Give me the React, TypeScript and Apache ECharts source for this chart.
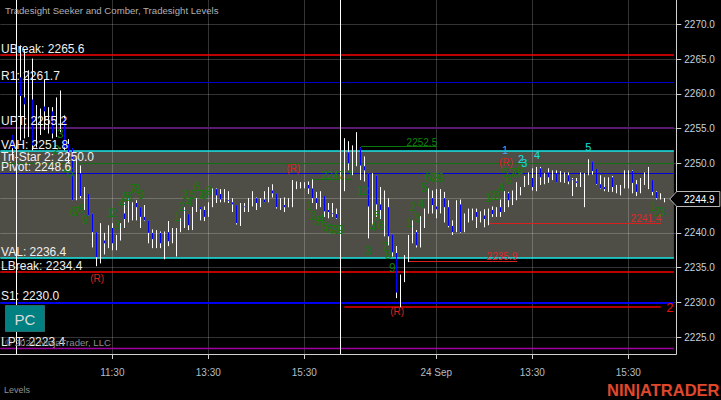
import React, { useEffect, useRef } from "react";
import * as echarts from "echarts";

const FONT = "'Liberation Sans', Arial, sans-serif";

const titleText = "Tradesight Seeker and Comber, Tradesight Levels";
const panelText = "Levels";
const copyrightText = "© 2024 NinjaTrader, LLC";
const brandText = "NIN|ATRADER";
const buttonText = "PC";

const yMin = 2222.56;
const yMax = 2273.53;
const xMin = 0;
const xMax = 169;
const yTicks = [2225, 2230, 2235, 2240, 2245, 2250, 2255, 2260, 2265, 2270];
const xTickIndex = [28, 52, 76, 109, 133, 157];
const xTickLabels = ["11:30", "13:30", "15:30", "24 Sep", "13:30", "15:30"];
const sessionBreaks = [4.05, 85.05];
const levelEnd = 168.4;

const firstBar = 3;
const barOpen = [
  2254.1, 2252.2, 2262.4, 2259.5, 2258.4, 2259.2, 2254.5, 2254.4, 2258.2, 2255.1,
  2257.5, 2254.3, 2254.8, 2256.5, 2252.8, 2252.2, 2245.7, 2248.6, 2243.5, 2245.6,
  2242.8, 2240.1, 2236.5, 2238.9, 2238.8, 2240.7, 2237.8, 2239.2, 2242.8, 2242.1,
  2242.1, 2244.3, 2243.7, 2242.3, 2241.8, 2240.0, 2239.2, 2240.0, 2238.5, 2240.1,
  2238.9, 2238.6, 2240.7, 2241.4, 2242.7, 2241.1, 2243.3, 2243.7, 2243.3, 2243.7,
  2244.0, 2246.3, 2245.6, 2245.1, 2244.7, 2244.4, 2244.0, 2241.2, 2243.8, 2243.8,
  2244.0, 2245.0, 2244.3, 2244.8, 2244.7, 2246.1, 2245.7, 2243.7, 2244.0, 2243.7,
  2244.3, 2246.6, 2246.7, 2246.6, 2246.9, 2246.4, 2245.0, 2244.0, 2245.3, 2243.3,
  2242.8, 2242.7, 2242.3, 2251.2, 2251.6, 2249.7, 2249.7, 2252.3, 2249.6, 2248.6,
  2244.0, 2248.3, 2244.1, 2243.3, 2243.7, 2239.8, 2237.1, 2231.6, 2233.2, 2235.8,
  2238.6, 2240.1, 2238.2, 2240.7, 2242.8, 2245.0, 2243.8, 2243.3, 2245.0, 2243.7,
  2241.0, 2240.4, 2244.1, 2240.4, 2241.8, 2242.3, 2243.0, 2242.1, 2242.5, 2242.1,
  2243.3, 2242.7, 2243.7, 2243.5, 2245.7, 2244.3, 2244.8, 2245.7, 2246.7, 2247.0,
  2247.9, 2246.9, 2249.3, 2247.3, 2248.7, 2247.9, 2248.6, 2247.6, 2247.6, 2248.3,
  2247.7, 2247.4, 2246.9, 2247.6, 2248.6, 2250.3, 2249.2, 2247.0, 2246.6, 2246.1,
  2248.0, 2246.0, 2245.7, 2246.6, 2246.9, 2248.9, 2247.0, 2246.0, 2247.0, 2247.4,
  2247.6, 2245.9, 2245.0, 2244.7,
];
const barClose = [
  2252.2, 2251.5, 2259.7, 2258.5, 2259.4, 2252.6, 2256.5, 2256.7, 2257.5, 2257.7,
  2254.3, 2255.8, 2256.2, 2252.3, 2251.6, 2244.7, 2249.0, 2245.3, 2246.1, 2242.5,
  2240.1, 2236.5, 2238.9, 2238.5, 2240.0, 2238.5, 2239.2, 2241.2, 2242.0, 2244.0,
  2244.1, 2243.7, 2242.3, 2241.8, 2240.0, 2239.1, 2240.0, 2238.5, 2240.0, 2238.8,
  2240.5, 2240.5, 2241.5, 2242.5, 2241.1, 2243.7, 2244.1, 2243.4, 2242.3, 2244.3,
  2246.3, 2245.4, 2244.8, 2246.0, 2244.6, 2244.1, 2241.4, 2244.0, 2243.7, 2245.0,
  2245.1, 2244.3, 2244.8, 2244.4, 2246.4, 2245.7, 2243.7, 2244.3, 2243.7, 2244.3,
  2247.4, 2246.7, 2246.9, 2246.7, 2246.4, 2245.0, 2244.3, 2245.6, 2243.1, 2243.0,
  2242.7, 2242.1, 2243.0, 2253.6, 2250.0, 2251.9, 2252.3, 2249.7, 2249.0, 2243.8,
  2248.0, 2244.1, 2243.3, 2245.1, 2239.5, 2237.2, 2231.4, 2233.9, 2236.1, 2238.9,
  2240.1, 2238.2, 2242.3, 2242.1, 2245.0, 2244.0, 2243.4, 2244.0, 2243.7, 2241.0,
  2240.1, 2244.0, 2240.1, 2242.7, 2243.0, 2242.8, 2242.3, 2242.7, 2242.0, 2242.7,
  2242.7, 2243.4, 2243.0, 2245.9, 2244.7, 2246.0, 2247.0, 2246.4, 2247.9, 2248.3,
  2246.6, 2249.0, 2248.0, 2248.3, 2248.0, 2248.7, 2247.3, 2248.6, 2248.3, 2247.4,
  2247.6, 2247.2, 2248.3, 2248.3, 2250.5, 2248.9, 2247.0, 2246.4, 2246.3, 2247.7,
  2246.6, 2246.7, 2246.6, 2248.7, 2248.7, 2247.2, 2245.9, 2247.7, 2248.4, 2247.7,
  2245.9, 2245.0, 2245.1, 2244.9,
];
const barHigh = [
  2254.1, 2254.5, 2267.0, 2266.3, 2263.4, 2265.1, 2258.4, 2257.9, 2262.1, 2258.1,
  2258.1, 2259.5, 2260.5, 2256.9, 2253.5, 2252.2, 2250.7, 2249.7, 2246.6, 2245.6,
  2242.8, 2240.1, 2241.4, 2240.0, 2241.1, 2241.4, 2239.7, 2241.4, 2244.4, 2245.0,
  2244.4, 2244.7, 2243.7, 2244.0, 2241.8, 2240.5, 2240.4, 2240.2, 2240.2, 2241.7,
  2240.7, 2240.7, 2242.1, 2243.7, 2242.7, 2243.7, 2245.0, 2243.7, 2243.8, 2244.4,
  2246.4, 2246.4, 2246.3, 2246.3, 2246.0, 2245.0, 2244.0, 2244.3, 2244.3, 2245.0,
  2246.0, 2245.1, 2245.0, 2246.0, 2246.6, 2247.0, 2245.7, 2245.0, 2245.1, 2245.0,
  2247.6, 2247.4, 2247.3, 2247.3, 2247.4, 2247.7, 2245.9, 2246.0, 2245.3, 2244.3,
  2244.3, 2243.5, 2243.0, 2253.6, 2253.2, 2252.6, 2254.5, 2252.3, 2251.0, 2248.6,
  2248.6, 2248.3, 2246.6, 2246.1, 2245.0, 2239.8, 2238.1, 2234.0, 2236.8, 2239.7,
  2241.8, 2240.4, 2242.4, 2243.5, 2246.4, 2246.1, 2246.3, 2246.3, 2245.9, 2244.7,
  2241.8, 2244.7, 2244.8, 2242.8, 2243.5, 2243.5, 2243.5, 2243.1, 2243.4, 2243.5,
  2243.8, 2243.7, 2244.8, 2246.0, 2245.9, 2246.1, 2247.3, 2246.6, 2248.2, 2248.7,
  2249.3, 2249.5, 2249.5, 2248.6, 2249.3, 2249.0, 2249.0, 2248.9, 2248.7, 2248.7,
  2247.9, 2247.9, 2248.7, 2248.6, 2250.6, 2250.3, 2249.2, 2248.3, 2248.0, 2248.0,
  2248.2, 2246.9, 2246.9, 2249.0, 2249.0, 2249.0, 2247.6, 2247.9, 2248.7, 2249.5,
  2247.6, 2246.0, 2245.7, 2245.0,
];
const barLow = [
  2250.5, 2251.2, 2253.3, 2253.6, 2253.8, 2251.9, 2252.3, 2254.1, 2254.8, 2254.3,
  2253.6, 2253.8, 2254.5, 2251.9, 2250.0, 2244.7, 2244.7, 2245.0, 2243.3, 2242.5,
  2237.9, 2235.2, 2235.6, 2236.9, 2237.8, 2237.5, 2237.5, 2238.9, 2240.7, 2241.5,
  2241.8, 2241.8, 2240.7, 2241.7, 2238.5, 2237.8, 2237.8, 2237.8, 2236.2, 2238.1,
  2238.5, 2236.6, 2240.1, 2240.7, 2240.4, 2240.4, 2243.0, 2241.8, 2241.7, 2242.3,
  2243.7, 2244.3, 2244.4, 2244.4, 2244.3, 2243.0, 2241.2, 2241.0, 2243.0, 2243.0,
  2243.8, 2243.3, 2243.7, 2244.4, 2244.4, 2245.1, 2243.5, 2243.3, 2243.0, 2243.7,
  2243.7, 2246.3, 2246.4, 2246.4, 2245.6, 2244.3, 2243.4, 2243.7, 2242.3, 2242.1,
  2242.3, 2242.0, 2242.1, 2246.0, 2249.0, 2248.3, 2249.6, 2247.6, 2247.4, 2239.2,
  2241.1, 2242.3, 2242.0, 2239.5, 2238.2, 2236.6, 2230.6, 2229.3, 2232.9, 2235.8,
  2238.5, 2237.9, 2237.9, 2240.7, 2242.8, 2242.8, 2242.1, 2242.8, 2241.5, 2240.8,
  2239.7, 2240.1, 2240.0, 2240.1, 2241.5, 2241.8, 2240.7, 2241.5, 2240.8, 2241.1,
  2242.3, 2242.3, 2242.3, 2243.0, 2243.7, 2244.0, 2244.7, 2245.4, 2246.6, 2246.9,
  2246.1, 2246.0, 2246.9, 2247.0, 2247.2, 2247.6, 2247.3, 2247.3, 2247.2, 2247.0,
  2245.3, 2246.6, 2246.6, 2243.7, 2248.3, 2248.4, 2246.9, 2246.3, 2246.0, 2245.9,
  2245.9, 2245.7, 2245.4, 2246.4, 2246.4, 2245.7, 2245.3, 2245.7, 2246.9, 2246.3,
  2245.4, 2244.8, 2244.8, 2244.4,
];

const lastPrice = 2244.9;

const levelNames = ["UBreak", "R1", "UPT", "VAH", "Tri-Star 2", "Pivot", "VAL", "LBreak", "S1", "LPT"];
const levelValues = [2265.6, 2261.7, 2255.2, 2251.8, 2250.0, 2248.6, 2236.4, 2234.4, 2230.0, 2223.4];
const levelColors = ["#f80000", "#0000c8", "#5a1a6e", "#18e8e8", "#146e14", "#0000dc", "#18e8e8", "#f80000", "#0000f0", "#a000a0"];
const levelWidths = [1.6, 1, 2, 1.6, 1, 1, 1.6, 1.6, 2, 1.4];
const valueAreaHigh = 2251.8;
const valueAreaLow = 2236.4;

const segmentFrom = [90.2, 77.4, 102, 122, 86];
const segmentTo = [109.2, 88, 129.2, 165.2, 165.1];
const segmentPrice = [2252.5, 2247.7, 2235.9, 2241.4, 2229.4];
const segmentColor = ["#0a780a", "#146e14", "#d82020", "#d82020", "#e80000"];
const segmentWidth = [1, 1, 1, 1, 1.6];

type Note = [number, number, string];
const priceNotesGreen: Note[] = [[105.4, 2253.0, "2252.5"], [84.2, 2248.3, "2247.7"]];
const priceNotesRed: Note[] = [[125.4, 2236.6, "2235.9"], [161.4, 2242.1, "2241.4"]];
const reversalNotes: Note[] = [[24.2, 2233.5, "(R)"], [73.2, 2249.2, "(R)"], [99.2, 2228.7, "(R)"], [126.4, 2250.2, "(R)"]];
const targetNote: Note[] = [[167.4, 2229.2, "2"]];
const blueNote: Note[] = [[126.2, 2252.0, "1"]];
const cyanNotes: Note[] = [[130.2, 2250.6, "2"], [131, 2250.0, "3"], [134.2, 2251.2, "4"], [147, 2252.3, "5"]];
const greenCounts: Note[] = [
  [14, 2251.9, "2"], [15, 2254.3, "3"], [16.5, 2249.0, "4"], [17.5, 2248.6, "5"], [18.2, 2243.0, "6"], [19.2, 2243.0, "7"], [20.2, 2243.5, "8"], [21.2, 2241.8, "9"],
  [27.4, 2242.8, "1"], [28.4, 2242.8, "2"], [29.2, 2241.2, "3"], [30.4, 2244.3, "4"], [31.4, 2245.1, "5"], [32.2, 2245.1, "6"], [33.2, 2246.3, "7"], [34.2, 2246.3, "8"], [35.2, 2245.4, "9"],
  [44.2, 2242.3, "1"], [45.4, 2243.7, "2"], [46.2, 2245.4, "3"], [47.2, 2244.4, "4"], [48.2, 2245.4, "5"], [49.2, 2246.6, "6"], [50.2, 2245.4, "7"], [51, 2245.4, "8"], [52.2, 2246.0, "9"],
  [77.2, 2243.8, "1"], [78.2, 2242.4, "2"], [79.2, 2241.7, "3"], [80.2, 2242.0, "4"], [81.2, 2240.8, "5"], [82.2, 2240.5, "6"], [83.2, 2240.4, "7"], [84.2, 2240.4, "8"], [85.2, 2240.4, "9"],
  [89.9, 2246.0, "1"], [91.4, 2246.0, "2"], [92, 2237.4, "3"], [93.2, 2240.8, "4"], [94.2, 2242.4, "5"], [95.2, 2241.0, "6"], [96.2, 2237.9, "7"], [97, 2236.8, "8"], [98, 2235.0, "9"],
  [102.2, 2241.4, "1"], [103.2, 2243.7, "2"], [104.2, 2242.1, "3"], [105.2, 2244.1, "4"], [106, 2246.4, "5"], [107, 2248.0, "6"], [108.2, 2247.9, "7"], [109.2, 2247.9, "8"], [110.2, 2247.9, "9"],
  [122, 2245.0, "1"], [123.2, 2245.3, "2"], [124.2, 2245.3, "3"], [125.2, 2246.4, "4"], [126.2, 2248.6, "5"], [127.2, 2247.6, "6"], [128.2, 2248.6, "7"], [129.2, 2248.6, "8"], [130.2, 2249.0, "9"],
  [163.2, 2243.7, "1"], [164.2, 2243.0, "2"], [165.4, 2243.0, "3"],
];

function noteSeries(items: Note[], fill: string, font: string, z: number, align = "center", vAlign = "middle") {
  return {
    type: "custom",
    coordinateSystem: "cartesian2d",
    silent: true,
    clip: false,
    z,
    data: items.map((n) => [n[0], n[1]]),
    encode: { x: 0, y: 1 },
    renderItem: (params: any, api: any) => {
      const note = items[params.dataIndex];
      const p = api.coord([note[0], note[1]]);
      return {
        type: "text",
        x: p[0],
        y: p[1],
        style: { text: note[2], fill, font, align, verticalAlign: vAlign, textAlign: align, textVerticalAlign: vAlign },
      };
    },
  };
}

function App() {
  const ref = useRef<HTMLDivElement>(null);
  useEffect(() => {
    document.body.style.margin = "0";
    document.body.style.background = "#000";
    const chart = echarts.init(ref.current!, undefined, { renderer: "svg", width: 721, height: 400 });

    const indices = barOpen.map((_, i) => i + firstBar);
    const wicks = indices.map((k, i) => [k, barOpen[i], barClose[i], barLow[i], barHigh[i]]);
    const bodies = indices.map((k, i) => [
      k,
      barOpen[i],
      barClose[i],
      Math.min(barOpen[i], barClose[i]),
      Math.max(barOpen[i], barClose[i]),
    ]);

    const levelLines = levelValues.map((v, i) => [
      { coord: [0, v], lineStyle: { color: levelColors[i], width: levelWidths[i], type: "solid", opacity: 1 } },
      { coord: [levelEnd, v] },
    ]);
    const segmentLines = segmentPrice.map((v, i) => [
      { coord: [segmentFrom[i], v], lineStyle: { color: segmentColor[i], width: segmentWidth[i], type: "solid", opacity: 1 } },
      { coord: [segmentTo[i], v] },
    ]);
    const sessionLines = sessionBreaks.map((k) => [
      { coord: [k, yMax], lineStyle: { color: "#ffffff", width: 1, type: "solid", opacity: 1 } },
      { coord: [k, yMin] },
    ]);

    const levelNotes: Note[] = levelNames.map((n, i) => [0.2, levelValues[i], `${n}: ${levelValues[i].toFixed(1)}`]);

    chart.setOption({
      animation: false,
      backgroundColor: "#000000",
      textStyle: { fontFamily: FONT },
      grid: { left: 0.3, right: 44.7, top: 0, bottom: 46, containLabel: false },
      xAxis: {
        type: "value",
        min: xMin,
        max: xMax,
        axisLine: { show: true, onZero: false, lineStyle: { color: "#d0d0d0", width: 1 } },
        axisTick: { show: true, length: 5, customValues: xTickIndex, lineStyle: { color: "#d0d0d0" } },
        axisLabel: {
          show: true,
          customValues: xTickIndex,
          color: "#b4bcc4",
          fontSize: 10,
          fontFamily: FONT,
          margin: 13,
          showMinLabel: true,
          showMaxLabel: true,
          formatter: (v: number) => xTickLabels[xTickIndex.indexOf(v)] ?? "",
        },
        splitLine: { show: true, lineStyle: { color: "rgba(255,255,255,0.2)", width: 1 } },
      },
      yAxis: {
        type: "value",
        position: "right",
        min: yMin,
        max: yMax,
        axisLine: { show: true, onZero: false, lineStyle: { color: "#d0d0d0", width: 1 } },
        axisTick: { show: true, length: 5, customValues: yTicks, lineStyle: { color: "#d0d0d0" } },
        axisLabel: {
          show: true,
          customValues: yTicks,
          color: "#c8d2dc",
          fontSize: 10,
          fontFamily: FONT,
          margin: 8,
          formatter: (v: number) => v.toFixed(1),
        },
        splitLine: { show: true, lineStyle: { color: "rgba(255,255,255,0.2)", width: 1 } },
      },
      series: [
        {
          type: "custom",
          name: "Value area",
          coordinateSystem: "cartesian2d",
          silent: true,
          z: -1,
          data: [[0, valueAreaHigh, levelEnd, valueAreaLow]],
          encode: { x: [0, 2], y: [1, 3] },
          renderItem: (_p: any, api: any) => {
            const a = api.coord([api.value(0), api.value(1)]);
            const b = api.coord([api.value(2), api.value(3)]);
            return {
              type: "rect",
              shape: { x: a[0] - 1, y: a[1], width: b[0] - a[0] + 1, height: b[1] - a[1] },
              style: { fill: "#4f4e46" },
            };
          },
        },
        {
          type: "line",
          name: "Levels",
          data: [],
          silent: true,
          z: 3,
          markLine: { silent: true, z: 3, symbol: "none", label: { show: false }, animation: false, data: [...levelLines, ...segmentLines] },
        },
        {
          type: "candlestick",
          name: "Wicks",
          data: wicks,
          barWidth: 0,
          silent: true,
          z: 6,
          encode: { x: 0, y: [1, 2, 3, 4] },
          itemStyle: { color: "#ffffff", color0: "#ffffff", borderColor: "#ffffff", borderColor0: "#ffffff", borderColorDoji: "#ffffff", borderWidth: 1 },
        },
        {
          type: "candlestick",
          name: "Bodies",
          data: bodies,
          barWidth: 1,
          silent: true,
          z: 7,
          encode: { x: 0, y: [1, 2, 3, 4] },
          itemStyle: { color: "#ffffff", color0: "#0000ff", borderColor: "#ffffff", borderColor0: "#0000ff", borderColorDoji: "#ffffff", borderWidth: 1 },
        },
        {
          type: "line",
          name: "Sessions",
          data: [],
          silent: true,
          z: 8,
          markLine: { silent: true, z: 8, symbol: "none", label: { show: false }, animation: false, data: sessionLines },
        },
        noteSeries(greenCounts, "#14780f", `12px ${FONT}`, 9),
        noteSeries(priceNotesGreen, "#0f820f", `10px ${FONT}`, 9),
        noteSeries(priceNotesRed, "#dc2828", `10px ${FONT}`, 9),
        noteSeries(reversalNotes, "#dc2020", `10px ${FONT}`, 9),
        noteSeries(targetNote, "#e81010", `13px ${FONT}`, 9),
        noteSeries(blueNote, "#40a8e8", `11px ${FONT}`, 9),
        noteSeries(cyanNotes, "#14e0e0", `11px ${FONT}`, 9),
        noteSeries(levelNotes, "#f0f0f0", `12px ${FONT}`, 10, "left", "bottom"),
        {
          type: "custom",
          name: "Last price",
          coordinateSystem: "cartesian2d",
          silent: true,
          clip: false,
          z: 11,
          data: [[xMax, lastPrice]],
          encode: { x: 0, y: 1 },
          renderItem: (_p: any, api: any) => {
            const p = api.coord([api.value(0), api.value(1)]);
            const x = p[0];
            const y = Math.round(p[1]);
            return {
              type: "group",
              children: [
                {
                  type: "polygon",
                  shape: { points: [[x - 6.5, y], [x + 0.5, y - 7.5], [x + 43.5, y - 7.5], [x + 43.5, y + 7.5], [x + 0.5, y + 7.5]] },
                  style: { fill: "#000000", stroke: "#b8b8b8", lineWidth: 1 },
                },
                {
                  type: "text",
                  x: x + 23,
                  y: y,
                  style: { text: api.value(1).toFixed(1), fill: "#ffffff", font: `10px ${FONT}`, align: "center", verticalAlign: "middle", textAlign: "center", textVerticalAlign: "middle" },
                },
              ],
            };
          },
        },
      ],
      graphic: [
        { type: "text", x: 5, y: 10, z: 20, style: { text: titleText, fill: "#b0b0b0", font: `9.6px ${FONT}`, align: "left", verticalAlign: "middle" } },
        { type: "text", x: 4, y: 390, z: 20, style: { text: panelText, fill: "#909090", font: `9px ${FONT}`, align: "left", verticalAlign: "middle" } },
        { type: "text", x: 5, y: 342, z: 20, style: { text: copyrightText, fill: "#8c8c8c", font: `9.6px ${FONT}`, align: "left", verticalAlign: "middle" } },
        { type: "rect", x: 5.5, y: 305.5, z: 20, shape: { width: 39, height: 26 }, style: { fill: "#008080", stroke: "#2a6a6a", lineWidth: 1 } },
        { type: "text", x: 25, y: 319, z: 21, style: { text: buttonText, fill: "#dcdcdc", font: `15px ${FONT}`, align: "center", verticalAlign: "middle" } },
        { type: "text", x: 607, y: 390, z: 20, style: { text: brandText, fill: "#e0482c", font: `bold 16.5px ${FONT}`, align: "left", verticalAlign: "middle" } },
      ],
    });
    return () => chart.dispose();
  }, []);
  return <div ref={ref} style={{ position: "absolute", left: 0, top: 0, width: 721, height: 400, background: "#000" }} />;
}

export default App;
